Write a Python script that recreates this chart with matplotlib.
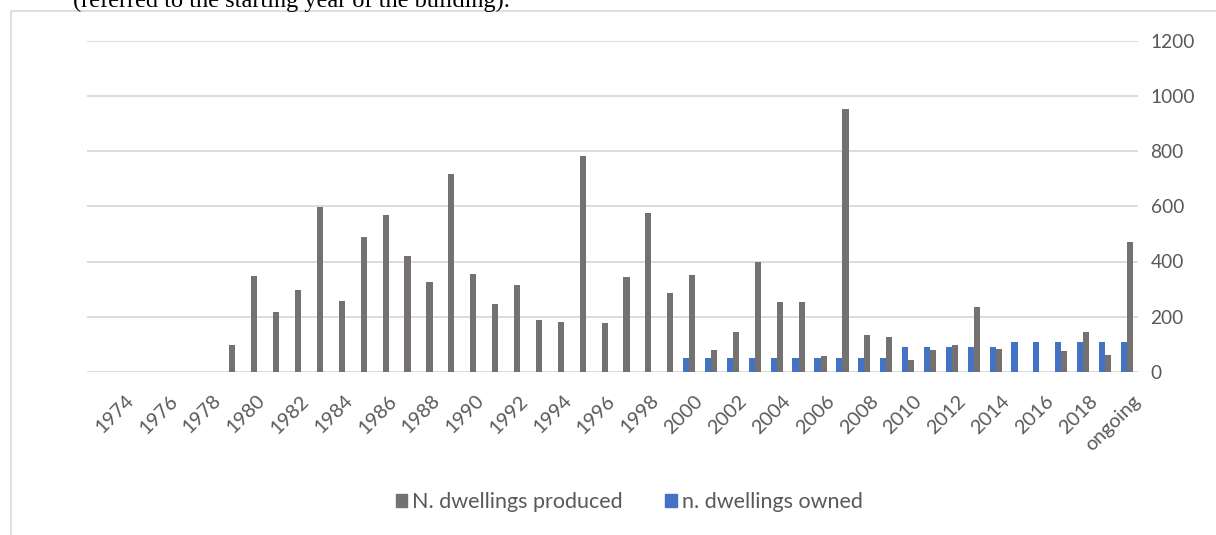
import matplotlib
matplotlib.use("Agg")
import matplotlib.pyplot as plt
from matplotlib.patches import Rectangle, Patch
import matplotlib.transforms as mtransforms
import numpy as np

categories = [str(y) for y in range(1973, 2020)] + ["ongoing"]
produced = [0, 0, 0, 0, 0, 0,
            97, 347, 217, 298, 597, 256, 489, 567, 419, 325,
            717, 355, 246, 314, 188, 180, 781, 176, 343, 576,
            285, 352, 79, 146, 398, 252, 253, 58, 953, 134,
            126, 42, 80, 96, 234, 82, 0, 0, 76, 146, 60, 471]
owned = [0] * 27 + [49, 49, 49, 49, 49, 49, 49, 49, 49, 49,
                    89, 89, 89, 89, 89, 110, 110, 110, 110, 110, 110]
yticks = [0, 200, 400, 600, 800, 1000, 1200]

GRAY = "#767171"
BLUE = "#4472C4"
GRID = "#D9D9D9"
TXT = "#595959"
FONT = "Lato"

W, H = 1216, 535
fig = plt.figure(figsize=(W / 100, H / 100), dpi=100)

# chart border (partially visible)
fig.patches.append(Rectangle((11 / W, -0.1), 1.2, (H - 11) / H + 0.1,
                             transform=fig.transFigure, fill=False,
                             edgecolor=GRID, linewidth=1.2))
# caption text cut at the top
fig.text(73 / W, (H - 7) / H, "(referred to the starting year of the building).",
         family="Liberation Serif", fontsize=17.5, color="black",
         ha="left", va="baseline")

left, right = 87 / W, 1138 / W
bottom, top = (H - 372) / H, (H - 40.5) / H
ax = fig.add_axes([left, bottom, right - left, top - bottom])

x = np.arange(len(categories))
bw = 0.28
ax.bar(x - bw / 2, owned, width=bw, color=BLUE, label="n. dwellings owned", zorder=3)
ax.bar(x + bw / 2, produced, width=bw, color=GRAY, label="N. dwellings produced", zorder=3)

ax.set_xlim(-0.5, len(categories) - 0.5)
ax.set_ylim(0, 1200)
ax.set_yticks(yticks)
ax.yaxis.tick_right()
ax.tick_params(axis="y", length=0, pad=9, labelsize=13.8, labelcolor=TXT)
for lab in ax.get_yticklabels():
    lab.set_family(FONT)
ax.grid(axis="y", color=GRID, linewidth=1.3, zorder=0)
for s in ax.spines.values():
    s.set_visible(False)

ax.set_xticks(x[1::2])
ax.set_xticklabels(categories[1::2])
ax.tick_params(axis="x", length=0, pad=0)
offset = mtransforms.ScaledTranslation(5 / 100, -20 / 100, fig.dpi_scale_trans)
for lab in ax.get_xticklabels():
    lab.set_rotation(45)
    lab.set_rotation_mode("anchor")
    lab.set_ha("right")
    lab.set_va("top")
    lab.set_family(FONT)
    lab.set_fontsize(14.3)
    lab.set_color(TXT)
    lab.set_transform(lab.get_transform() + offset)

handles = [Patch(color=GRAY), Patch(color=BLUE)]
fig.legend(handles, ["N. dwellings produced", "n. dwellings owned"],
           loc="center", bbox_to_anchor=(629 / W, (H - 502) / H),
           ncol=2, frameon=False, handlelength=0.55, handleheight=0.6,
           handletextpad=0.2, columnspacing=2.0,
           prop={"family": FONT, "size": 15.5}, labelcolor=TXT)

fig.savefig("out.png", dpi=100)
